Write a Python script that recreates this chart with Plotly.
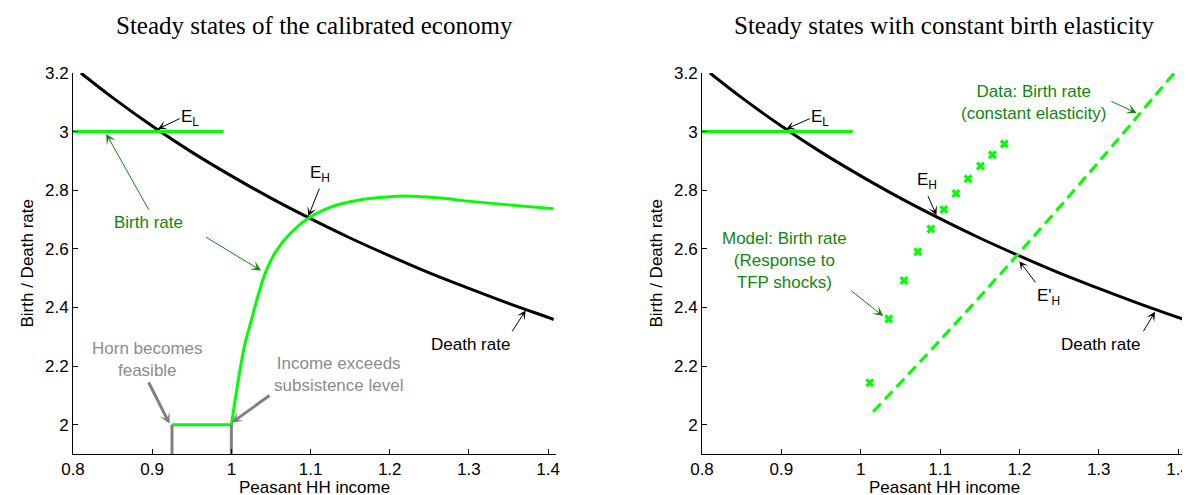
import plotly.graph_objects as go

# ---------------- data ----------------
death_x = [0.81, 0.85, 0.90, 0.95, 1.00, 1.05, 1.10, 1.15, 1.20, 1.25, 1.30, 1.35, 1.40, 1.407]
death_y = [3.200, 3.116, 3.019, 2.930, 2.849, 2.773, 2.703, 2.637, 2.576, 2.518, 2.465, 2.414, 2.366, 2.359]

low_birth_x = [0.80, 0.99]
low_birth_y = [3.0, 3.0]

horn_x = [0.925, 1.0]
horn_y = [2.0, 2.0]

birth_x = [1.0, 1.0165, 1.0249, 1.0354, 1.0438, 1.0564, 1.0732, 1.0964, 1.128, 1.160,
           1.197, 1.218, 1.26, 1.302, 1.35, 1.407]
birth_y = [2.0, 2.268, 2.353, 2.456, 2.524, 2.592, 2.649, 2.703, 2.745, 2.766,
           2.777, 2.780, 2.774, 2.762, 2.750, 2.737]

gray_x = [0.925, 1.0]          # vertical markers (horn feasible / subsistence)
gray_y = [1.9, 2.0]

model_x = [1.0115, 1.0354, 1.0547, 1.072, 1.0884, 1.1048, 1.12, 1.1354, 1.151, 1.166, 1.181]
model_y = [2.143, 2.361, 2.492, 2.590, 2.668, 2.734, 2.789, 2.839, 2.883, 2.921, 2.958]

data_x = [1.0156, 1.1, 1.2, 1.3, 1.395]
data_y = [2.044, 2.288, 2.587, 2.897, 3.2]

x_ticks = [0.8, 0.9, 1.0, 1.1, 1.2, 1.3, 1.4]
x_tick_labels = ["0.8", "0.9", "1", "1.1", "1.2", "1.3", "1.4"]
y_ticks = [2.0, 2.2, 2.4, 2.6, 2.8, 3.0, 3.2]
y_tick_labels = ["2", "2.2", "2.4", "2.6", "2.8", "3", "3.2"]

titles = ["Steady states of the calibrated economy", "Steady states with constant birth elasticity"]
x_label = "Peasant HH income"
y_label = "Birth / Death rate"

# ---------------- style ----------------
W, H = 1190, 495
ML, MR, MT, MB = 65, 12, 65, 49
PW, PH = W - ML - MR, H - MT - MB
SANS = "Liberation Sans, Arial, sans-serif"
SERIF = "Liberation Serif, Times New Roman, serif"
GREEN = "#00ff00"
DKGREEN = "#0f870f"
GRAY_LINE = "#808080"
GRAY_TEXT = "#8c8c8c"

fig = go.Figure()

def line(x, y, xa, ya, color, width=3, dash=None, shape="linear"):
    fig.add_trace(go.Scatter(x=x, y=y, xaxis=xa, yaxis=ya, mode="lines",
                             line=dict(color=color, width=width, dash=dash, shape=shape),
                             showlegend=False, hoverinfo="skip"))

# left panel
line(death_x, death_y, "x", "y", "black", shape="spline")
line(low_birth_x, low_birth_y, "x", "y", GREEN)
line(horn_x, horn_y, "x", "y", GREEN)
line(birth_x, birth_y, "x", "y", GREEN, shape="spline")
for gx in gray_x:
    line([gx, gx], gray_y, "x", "y", GRAY_LINE)

# right panel
line(death_x, death_y, "x2", "y2", "black", shape="spline")
line(low_birth_x, low_birth_y, "x2", "y2", GREEN)
line(data_x, data_y, "x2", "y2", GREEN, dash="11px,6px", shape="spline")
fig.add_trace(go.Scatter(x=model_x, y=model_y, xaxis="x2", yaxis="y2", mode="markers",
                         marker=dict(symbol="x", size=8, color=GREEN, line=dict(width=0)),
                         showlegend=False, hoverinfo="skip"))

# ---------------- axes ----------------
def px_x(p):
    return (p - ML) / PW

def px_y(p):
    return (H - MB - p) / PH

axis_common = dict(showline=True, linecolor="black", linewidth=1, mirror=False,
                   ticks="inside", ticklen=5, tickcolor="black", tickwidth=1,
                   showgrid=False, zeroline=False, automargin=False,
                   tickfont=dict(family=SANS, size=17, color="black"))

fig.update_layout(
    width=W, height=H,
    margin=dict(l=ML, r=MR, t=MT, b=MB, autoexpand=False),
    paper_bgcolor="white", plot_bgcolor="white",
    xaxis=dict(domain=[px_x(65), px_x(548)], range=[0.8, 1.41], anchor="y",
               tickvals=x_ticks, ticktext=x_tick_labels, **axis_common),
    yaxis=dict(domain=[0, 1], range=[1.9, 3.2], anchor="x",
               tickvals=y_ticks, ticktext=y_tick_labels, **axis_common),
    xaxis2=dict(domain=[px_x(694), px_x(1178)], range=[0.8, 1.41], anchor="y2",
                tickvals=x_ticks, ticktext=x_tick_labels, **axis_common),
    yaxis2=dict(domain=[0, 1], range=[1.9, 3.2], anchor="x2",
                tickvals=y_ticks, ticktext=y_tick_labels, **axis_common),
)

# ---------------- titles / axis labels ----------------
for i, cx in enumerate([306.5, 936]):
    fig.add_annotation(x=px_x(cx), y=px_y(17), xref="paper", yref="paper",
                       text=titles[i], showarrow=False, xanchor="center", yanchor="middle",
                       font=dict(family=SERIF, size=25, color="black"))
    fig.add_annotation(x=px_x(cx), y=px_y(479), xref="paper", yref="paper",
                       text=x_label, showarrow=False, xanchor="center", yanchor="middle",
                       font=dict(family=SANS, size=17, color="black"))
for cx in [19, 648]:
    fig.add_annotation(x=px_x(cx), y=px_y(255.5), xref="paper", yref="paper",
                       text=y_label, showarrow=False, textangle=-90,
                       xanchor="center", yanchor="middle",
                       font=dict(family=SANS, size=17, color="black"))

# ---------------- text labels ----------------
def label(x, y, text, xa, ya, color="black"):
    fig.add_annotation(x=x, y=y, xref=xa, yref=ya, text=text, showarrow=False,
                       xanchor="center", yanchor="middle",
                       font=dict(family=SANS, size=17, color=color))

def arrow(tip, tail, xa, ya, color, width=1, size=1.5):
    fig.add_annotation(x=tip[0], y=tip[1], ax=tail[0], ay=tail[1],
                       xref=xa, yref=ya, axref=xa, ayref=ya, text="",
                       showarrow=True, arrowhead=3, arrowsize=size,
                       arrowwidth=width, arrowcolor=color)

# left panel
label(0.9482, 3.047, "E<sub>L</sub>", "x", "y")
label(1.1115, 2.856, "E<sub>H</sub>", "x", "y")
label(0.8955, 2.689, "Birth rate", "x", "y", DKGREEN)
label(0.8946, 2.2225, "Horn becomes<br>feasible", "x", "y", GRAY_TEXT)
label(1.1354, 2.1714, "Income exceeds<br>subsistence level", "x", "y", GRAY_TEXT)
label(1.3023, 2.2726, "Death rate", "x", "y")

arrow((0.9072, 3.009), (0.9366, 3.0466), "x", "y", "black")
arrow((1.0972, 2.7114), (1.1119, 2.8103), "x", "y", "black")
arrow((0.842, 2.992), (0.8967, 2.7285), "x", "y", DKGREEN, size=1.7)
arrow((1.0375, 2.526), (0.966, 2.643), "x", "y", DKGREEN, size=1.7)
arrow((0.922, 2.003), (0.8946, 2.149), "x", "y", GRAY_LINE, width=3, size=0.6)
arrow((1.0005, 2.0067), (1.05, 2.103), "x", "y", GRAY_LINE, width=3, size=0.6)
arrow((1.3716, 2.390), (1.3536, 2.3135), "x", "y", "black")

# right panel
label(0.9482, 3.047, "E<sub>L</sub>", "x2", "y2")
label(1.0837, 2.83, "E<sub>H</sub>", "x2", "y2")
label(1.2369, 2.4363, "E'<sub>H</sub>", "x2", "y2")
label(1.2187, 3.0977, "Data: Birth rate<br>(constant elasticity)", "x2", "y2", DKGREEN)
label(0.9034, 2.56, "Model: Birth rate<br>(Response to<br>TFP shocks)", "x2", "y2", DKGREEN)
label(1.3019, 2.2737, "Death rate", "x2", "y2")

arrow((0.9063, 3.009), (0.9378, 3.0466), "x2", "y2", "black")
arrow((1.0955, 2.715), (1.084, 2.785), "x2", "y2", "black")
arrow((1.2, 2.558), (1.2216, 2.4806), "x2", "y2", "black")
arrow((1.3477, 3.0636), (1.3141, 3.1056), "x2", "y2", DKGREEN, size=1.7)
arrow((1.0283, 2.3705), (0.9863, 2.461), "x2", "y2", DKGREEN, size=1.7)
arrow((1.3709, 2.385), (1.3552, 2.3135), "x2", "y2", "black")

fig.write_html("out.html")
